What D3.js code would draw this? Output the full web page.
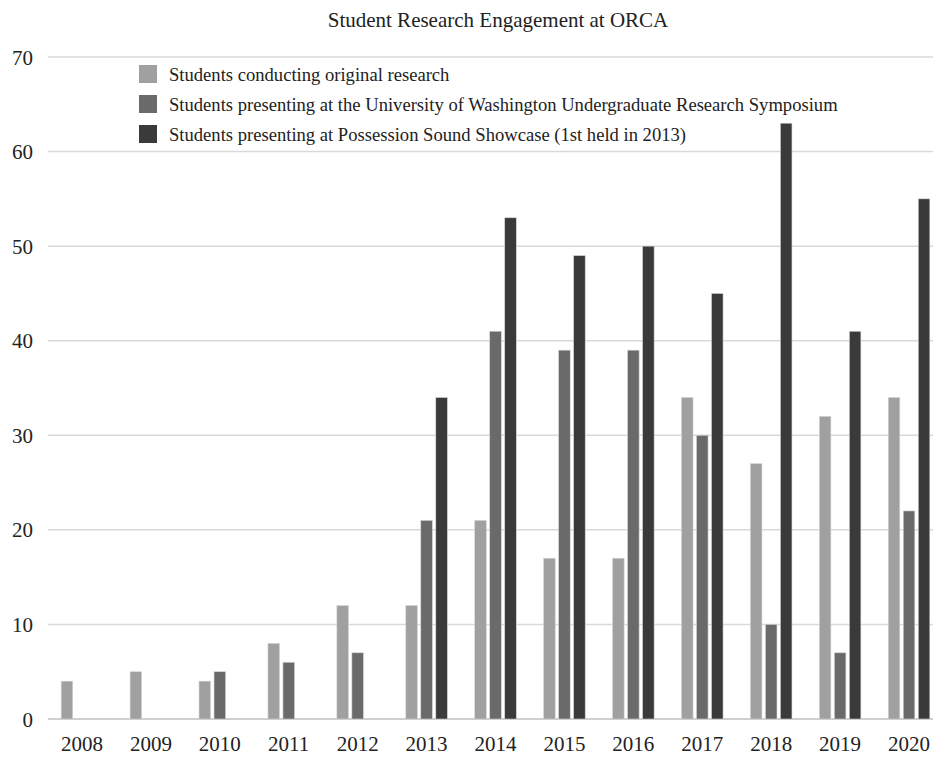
<!DOCTYPE html>
<html>
<head>
<meta charset="utf-8">
<script src="https://cdn.jsdelivr.net/npm/d3@7"></script>
<style>
  html, body { margin: 0; padding: 0; background: #fff; }
  svg { display: block; font-family: "Liberation Serif", "Times New Roman", serif; }
</style>
</head>
<body>
<svg id="chart" width="933" height="757"></svg>
<script>
const years = ["2008","2009","2010","2011","2012","2013","2014","2015","2016","2017","2018","2019","2020"];
const seriesNames = [
  "Students conducting original research",
  "Students presenting at the University of Washington Undergraduate Research Symposium",
  "Students presenting at Possession Sound Showcase (1st held in 2013)"
];
const originalResearch = [4, 5, 4, 8, 12, 12, 21, 17, 17, 34, 27, 32, 34];
const uwSymposium      = [0, 0, 5, 6, 7, 21, 41, 39, 39, 30, 10, 7, 22];
const possessionSound  = [0, 0, 0, 0, 0, 34, 53, 49, 50, 45, 63, 41, 55];
const yTicks = [0, 10, 20, 30, 40, 50, 60, 70];
const colors = ["#a0a0a0", "#6a6a6a", "#3a3a3a"];

const seriesValues = [originalResearch, uwSymposium, possessionSound];
const rows = years.map((yr, i) => ({
  year: yr,
  values: seriesNames.map((s, k) => ({ key: s, idx: k, value: seriesValues[k][i] }))
}));

const svg = d3.select("#chart");
const W = 933, H = 757;

const y = d3.scaleLinear().domain([0, 70]).range([719, 57]);
const x0 = d3.scaleBand().domain(years).range([47.5, 943.5])
  .paddingInner(0.347).paddingOuter(0.1735);
const x1 = d3.scaleBand().domain(seriesNames).range([0, x0.bandwidth()])
  .paddingInner(0.23).paddingOuter(0.115);

// Title
svg.append("text")
  .attr("x", 498).attr("y", 27)
  .attr("text-anchor", "middle")
  .attr("font-size", 21)
  .attr("fill", "#222")
  .text("Student Research Engagement at ORCA");

// Y axis labels
const yAxis = d3.axisLeft(y).tickValues(yTicks).tickSize(0).tickPadding(0);
const gy = svg.append("g").attr("transform", "translate(33,0)").call(yAxis);
gy.select(".domain").remove();
gy.selectAll("text").attr("font-size", 21).attr("fill", "#222")
  .attr("font-family", "Liberation Serif, serif").attr("dy", "0.34em");

// Gridlines
svg.append("g").selectAll("line").data(yTicks).join("line")
  .attr("x1", 48).attr("x2", W)
  .attr("y1", d => y(d)).attr("y2", d => y(d))
  .attr("stroke", d => d === 0 ? "#cfcfcf" : "#d9d9d9")
  .attr("stroke-width", d => d === 0 ? 2 : 1.5);

// Bars
const groups = svg.append("g").selectAll("g").data(rows).join("g")
  .attr("transform", d => `translate(${x0(d.year)},0)`);
groups.selectAll("rect").data(d => d.values.filter(v => v.value > 0)).join("rect")
  .attr("x", d => x1(d.key))
  .attr("width", x1.bandwidth())
  .attr("y", d => y(d.value))
  .attr("height", d => y(0) - y(d.value))
  .attr("fill", d => colors[d.idx])
  .attr("stroke", "#d4d4d4")
  .attr("stroke-width", 0.6);

// X axis labels
const xAxis = d3.axisBottom(x0).tickSize(0).tickPadding(0);
const gx = svg.append("g").attr("transform", "translate(0,751)").call(xAxis);
gx.select(".domain").remove();
gx.selectAll("text").attr("font-size", 21).attr("fill", "#222")
  .attr("font-family", "Liberation Serif, serif").attr("dy", 0);

// Legend
const legend = svg.append("g").selectAll("g").data(seriesNames).join("g")
  .attr("transform", (d, i) => `translate(139,${65 + i * 30})`);
legend.append("rect").attr("width", 18).attr("height", 18)
  .attr("fill", (d, i) => colors[i]);
legend.append("text").attr("x", 30).attr("y", 15.5)
  .attr("font-size", 18.6).attr("fill", "#222")
  .text(d => d);
</script>
</body>
</html>
